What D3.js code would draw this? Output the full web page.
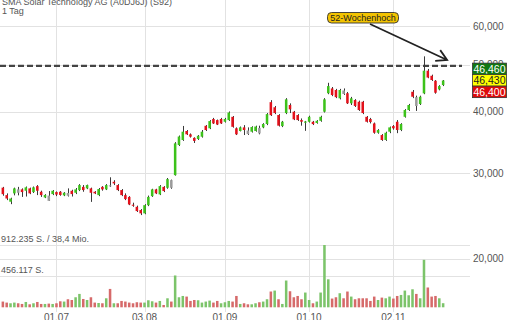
<!DOCTYPE html>
<html>
<head>
<meta charset="utf-8">
<script src="https://cdn.jsdelivr.net/npm/d3@7"></script>
<style>
  body { margin: 0; background: #fff; }
  svg { display: block; font-family: "Liberation Sans", Arial, sans-serif; }
  .grid line { stroke: #e2e2e2; stroke-width: 1; shape-rendering: crispEdges; }
  .tick-label { fill: #555; font-size: 10px; }
  .vol-label { fill: #555; font-size: 9px; }
  .title { fill: #555; font-size: 9px; }
</style>
</head>
<body>
<div id="chart"></div>
<script>
const title = 'SMA Solar Technology AG (A0DJ6J) (S92)';
const period = '1 Tag';
const firstDay = '2020-06-11';
const lastDay = '2020-11-19';

const opens = [28.00, 27.03, 26.20, 27.25, 27.33, 27.77, 27.59, 27.90, 27.42, 28.20,
  27.46, 26.73, 26.31, 27.16, 27.42, 27.46, 27.00, 26.95, 27.59, 27.33,
  27.68, 28.10, 27.90, 27.90, 27.46, 27.03, 28.10, 27.77, 28.20, 28.78,
  28.34, 27.68, 27.03, 26.80, 25.83, 25.58, 25.19, 24.80, 25.78, 26.90,
  27.77, 27.12, 28.10, 27.98, 27.98, 29.70, 34.23, 35.05, 36.57, 36.00,
  35.40, 35.22, 35.60, 37.48, 37.04, 38.70, 38.50, 38.70, 38.20, 38.50,
  39.10, 37.04, 36.57, 37.20, 36.05, 36.45, 36.57, 36.16, 37.20, 37.80,
  41.90, 40.90, 39.43, 37.43, 39.80, 41.34, 40.05, 39.43, 38.51, 38.03,
  38.20, 38.20, 37.98, 38.37, 40.05, 43.70, 44.70, 44.37, 42.66, 43.55,
  43.70, 41.67, 42.32, 41.98, 41.98, 39.10, 38.70, 37.90, 36.27, 35.88,
  35.05, 36.45, 37.43, 38.20, 36.74, 39.10, 40.37, 44.00, 41.15, 41.53,
  43.67, 48.60, 47.45, 46.35, 44.50, 45.42];
const highs = [28.10, 27.25, 26.70, 28.00, 28.10, 27.90, 28.15, 28.00, 28.15, 28.34,
  27.60, 27.15, 27.55, 27.68, 27.50, 27.55, 27.42, 27.90, 27.72, 27.95,
  28.47, 28.34, 28.40, 28.00, 27.55, 27.95, 28.20, 28.47, 29.40, 29.00,
  28.47, 27.81, 27.25, 26.90, 26.08, 25.72, 25.31, 25.90, 26.97, 27.85,
  27.85, 28.34, 28.20, 29.30, 29.08, 34.70, 35.80, 37.45, 36.74, 36.15,
  35.50, 35.88, 36.74, 37.61, 38.50, 38.90, 38.60, 38.90, 38.90, 40.10,
  39.25, 37.20, 37.35, 37.60, 37.20, 37.40, 37.50, 37.50, 37.95, 39.80,
  42.30, 41.15, 39.60, 38.35, 42.70, 41.66, 40.20, 39.60, 38.80, 38.35,
  39.30, 38.35, 38.50, 39.30, 42.70, 45.90, 45.00, 44.60, 44.60, 44.70,
  43.96, 42.95, 42.50, 42.20, 42.15, 39.25, 38.90, 38.06, 36.90, 36.05,
  36.45, 37.35, 37.61, 38.51, 37.95, 40.55, 41.55, 44.37, 43.20, 43.20,
  52.00, 49.00, 47.70, 46.50, 45.40, 46.51];
const lows = [26.95, 26.40, 25.90, 27.00, 27.00, 26.80, 26.85, 27.15, 27.30, 27.03,
  26.80, 26.65, 26.30, 27.03, 26.90, 26.95, 26.90, 26.85, 26.85, 27.16,
  27.55, 27.46, 27.80, 26.18, 27.16, 26.90, 27.60, 27.68, 28.10, 28.34,
  27.55, 26.90, 26.40, 25.78, 25.58, 24.96, 24.60, 24.70, 25.66, 26.80,
  27.16, 27.03, 27.42, 27.85, 27.85, 29.63, 34.07, 34.90, 35.88, 35.45,
  34.56, 35.05, 35.45, 36.57, 36.90, 37.80, 37.61, 37.80, 38.05, 38.35,
  37.15, 35.88, 36.50, 35.88, 35.90, 36.30, 36.45, 36.00, 37.05, 37.60,
  39.25, 39.60, 37.35, 37.25, 39.60, 39.80, 38.50, 38.35, 37.50, 36.60,
  38.05, 37.61, 37.85, 38.20, 39.90, 43.50, 43.10, 42.70, 42.45, 43.35,
  41.53, 41.34, 40.95, 40.20, 39.60, 38.05, 37.90, 36.10, 36.10, 34.90,
  34.90, 36.20, 36.80, 36.20, 36.55, 38.95, 40.20, 42.70, 40.20, 41.34,
  43.50, 46.90, 46.30, 43.60, 44.30, 45.20];
const closes = [27.15, 26.60, 26.60, 27.90, 27.77, 27.42, 28.04, 27.25, 28.04, 27.59,
  27.03, 27.05, 26.97, 27.59, 27.10, 27.05, 27.33, 27.30, 27.16, 27.77,
  28.34, 27.68, 28.34, 27.33, 27.25, 27.81, 27.77, 28.34, 28.30, 28.56,
  27.68, 27.03, 26.53, 25.86, 25.80, 25.07, 24.80, 25.78, 26.80, 27.77,
  27.25, 28.20, 27.55, 29.15, 29.01, 34.50, 35.63, 36.45, 36.00, 35.60,
  34.90, 35.75, 36.45, 36.74, 38.32, 37.90, 37.70, 37.90, 38.70, 39.90,
  37.30, 36.00, 37.20, 36.74, 36.65, 37.26, 37.35, 37.10, 37.80, 39.60,
  39.40, 39.80, 37.50, 38.20, 42.46, 40.50, 38.63, 38.51, 38.20, 38.25,
  39.10, 37.78, 38.37, 39.10, 42.46, 45.20, 43.33, 42.90, 44.37, 44.27,
  41.67, 42.66, 41.15, 40.37, 39.80, 38.20, 38.15, 36.27, 36.74, 35.05,
  36.27, 37.20, 37.04, 36.74, 37.80, 40.37, 41.34, 42.98, 42.90, 42.98,
  48.60, 47.05, 46.51, 43.80, 45.20, 46.40];
const volumes = [84000, 69000, 59000, 69000, 59000, 49000, 78000, 44000, 59000, 78000,
  49000, 49000, 54000, 49000, 59000, 88000, 84000, 118000, 107000, 147000,
  196000, 122000, 107000, 147000, 69000, 63000, 59000, 132000, 269000, 59000,
  59000, 93000, 84000, 69000, 59000, 74000, 69000, 69000, 103000, 88000,
  69000, 93000, 34000, 132000, 84000, 466000, 147000, 166000, 157000, 93000,
  107000, 103000, 69000, 84000, 98000, 69000, 93000, 59000, 74000, 93000,
  84000, 166000, 49000, 59000, 44000, 44000, 59000, 74000, 84000, 118000,
  231000, 245000, 118000, 49000, 392000, 235000, 147000, 166000, 118000, 216000,
  107000, 59000, 84000, 216000, 912235, 410000, 128000, 147000, 206000, 132000,
  231000, 157000, 118000, 132000, 132000, 132000, 93000, 157000, 107000, 142000,
  132000, 157000, 128000, 166000, 181000, 245000, 176000, 264000, 196000, 132000,
  695000, 290000, 157000, 166000, 132000, 60000];

const priceTicks = [20, 30, 40, 50, 60];
const volumeTicks = [456117, 912235];
const volumeTickLabels = ['456.117 S.', '912.235 S. / 38,4 Mio.'];
const high52 = 49.7;
const high52Label = '52-Wochenhoch';
const quotes = [46.46, 46.43, 46.40];

class CandleChart {
  constructor(_config) {
    this.config = {
      parentElement: _config.parentElement,
      containerWidth: 510,
      containerHeight: 320,
      plotRight: 470,
    };
    this.initVis();
  }

  /* svg, scales and data */
  initVis() {
    const vis = this;

    const parse = d3.timeParse('%Y-%m-%d');
    vis.dates = d3.timeDay.range(parse(firstDay), d3.timeDay.offset(parse(lastDay), 1))
      .filter((d) => d.getDay() !== 0 && d.getDay() !== 6);
    vis.data = vis.dates.map((d, i) => ({
      date: d, open: opens[i], high: highs[i], low: lows[i], close: closes[i], volume: volumes[i],
      prevClose: i > 0 ? closes[i - 1] : opens[i],
    }));

    vis.svg = d3.select(vis.config.parentElement).append('svg')
      .attr('width', vis.config.containerWidth)
      .attr('height', vis.config.containerHeight);

    vis.xScale = d3.scaleBand()
      .domain(vis.dates)
      .range([0.3, 445.7])
      .padding(0.34);
    vis.yScale = d3.scaleLog()
      .domain([30, 60])
      .range([173, 26]);
    vis.volScale = d3.scaleLinear()
      .domain([0, 912235])
      .range([307.3, 245]);

    vis.de = d3.formatLocale({ decimal: ',', thousands: '.', grouping: [3], currency: ['', ' €'] });
    vis.fmt = vis.de.format('.3f');

    vis.renderVis();
  }

  renderVis() {
    const vis = this;
    const x = (d) => vis.xScale(d) + vis.xScale.bandwidth() / 2;

    /* month ticks = first trading day of each month */
    const monthTicks = vis.dates.filter((d, i) => i > 0 && d.getMonth() !== vis.dates[i - 1].getMonth());

    const grid = vis.svg.append('g').attr('class', 'grid');
    grid.selectAll('.vgrid')
      .data(monthTicks)
      .join('line')
      .attr('class', 'vgrid')
      .attr('x1', (d) => Math.round(x(d)) + 0.5)
      .attr('x2', (d) => Math.round(x(d)) + 0.5)
      .attr('y1', 0)
      .attr('y2', 312);
    grid.selectAll('.hgrid')
      .data(priceTicks)
      .join('line')
      .attr('class', 'hgrid')
      .attr('x1', 0)
      .attr('x2', vis.config.plotRight)
      .attr('y1', (d) => Math.round(vis.yScale(d)) + 0.5)
      .attr('y2', (d) => Math.round(vis.yScale(d)) + 0.5);
    grid.selectAll('.vol-grid')
      .data(volumeTicks)
      .join('line')
      .attr('class', 'vol-grid')
      .attr('x1', 0)
      .attr('x2', vis.config.plotRight)
      .attr('y1', (d) => Math.round(vis.volScale(d)) + 0.5)
      .attr('y2', (d) => Math.round(vis.volScale(d)) + 0.5);

    /* titles */
    vis.svg.append('text').attr('class', 'title').attr('x', 2).attr('y', 5).text(title);
    vis.svg.append('text').attr('class', 'title').attr('x', 2).attr('y', 14).text(period);

    /* volume labels */
    vis.svg.selectAll('.vol-label')
      .data(volumeTicks)
      .join('text')
      .attr('class', 'vol-label')
      .attr('x', 1)
      .attr('y', (d) => vis.volScale(d) - 3)
      .text((d, i) => volumeTickLabels[i]);

    /* price axis labels */
    vis.svg.selectAll('.tick-label')
      .data(priceTicks)
      .join('text')
      .attr('class', 'tick-label')
      .attr('x', 473)
      .attr('y', (d) => vis.yScale(d))
      .attr('dy', '0.35em')
      .text((d) => vis.fmt(d));

    /* date labels */
    const dateFmt = d3.timeFormat('%d.%m');
    vis.svg.selectAll('.date-label')
      .data(monthTicks)
      .join('text')
      .attr('class', 'tick-label')
      .attr('x', (d) => x(d))
      .attr('y', 321)
      .attr('text-anchor', 'middle')
      .text((d) => dateFmt(d));

    /* volume bars */
    vis.svg.append('g').selectAll('rect')
      .data(vis.data)
      .join('rect')
      .attr('x', (d) => vis.xScale(d.date))
      .attr('width', vis.xScale.bandwidth())
      .attr('y', (d) => vis.volScale(d.volume))
      .attr('height', (d) => vis.volScale(0) - vis.volScale(d.volume))
      .attr('fill', (d) => (d.close >= d.prevClose ? '#7cc46a' : '#d66a6a'));

    /* 52 week high line */
    vis.svg.append('line')
      .attr('x1', 0)
      .attr('x2', 462)
      .attr('y1', vis.yScale(high52))
      .attr('y2', vis.yScale(high52))
      .attr('stroke', '#444')
      .attr('stroke-width', 2.3)
      .attr('stroke-dasharray', '6,3');

    /* candles */
    const candles = vis.svg.append('g').selectAll('g')
      .data(vis.data)
      .join('g');
    candles.append('line')
      .attr('x1', (d) => Math.round(x(d.date)) + 0.5)
      .attr('x2', (d) => Math.round(x(d.date)) + 0.5)
      .attr('y1', (d) => vis.yScale(d.high))
      .attr('y2', (d) => vis.yScale(d.low))
      .attr('stroke', '#3a3a3a')
      .attr('stroke-width', 1);
    candles.append('rect')
      .attr('x', (d) => vis.xScale(d.date))
      .attr('width', vis.xScale.bandwidth())
      .attr('y', (d) => vis.yScale(Math.max(d.open, d.close)))
      .attr('height', (d) => Math.max(1, Math.abs(vis.yScale(d.open) - vis.yScale(d.close))))
      .attr('fill', (d) => {
        if (d.close < d.open) return '#e3101a';
        return d.close < d.prevClose ? '#9b9b9b' : '#3cc21a';
      });

    /* last quote boxes */
    const boxH = 11.5;
    const midY = vis.yScale(quotes[1]);
    const boxStyle = [
      { fill: '#127812', text: '#fff' },
      { fill: '#ffff00', text: '#222' },
      { fill: '#dd0a0a', text: '#fff' },
    ];
    const boxes = vis.svg.append('g').selectAll('g')
      .data(quotes)
      .join('g')
      .attr('transform', (d, i) => `translate(472,${midY + (i - 1.5) * boxH})`);
    boxes.append('rect')
      .attr('x', 0.5)
      .attr('y', 0)
      .attr('width', 34)
      .attr('height', boxH)
      .attr('fill', (d, i) => boxStyle[i].fill)
      .attr('stroke', '#333')
      .attr('stroke-width', 0.8);
    boxes.append('text')
      .attr('x', 17.5)
      .attr('y', boxH / 2)
      .attr('dy', '0.36em')
      .attr('text-anchor', 'middle')
      .attr('font-size', 10.5)
      .attr('fill', (d, i) => boxStyle[i].text)
      .text((d) => vis.fmt(d));

    /* annotation: 52-Wochenhoch label and arrow */
    const note = vis.svg.append('g');
    note.append('rect')
      .attr('x', 327.5)
      .attr('y', 12.5)
      .attr('width', 71)
      .attr('height', 10.5)
      .attr('rx', 4)
      .attr('fill', '#f3c300')
      .attr('stroke', '#333')
      .attr('stroke-width', 0.9);
    note.append('text')
      .attr('x', 363)
      .attr('y', 17.8)
      .attr('dy', '0.35em')
      .attr('text-anchor', 'middle')
      .attr('font-size', 9)
      .attr('fill', '#222')
      .text(high52Label);

    const tip = [x(vis.dates[vis.dates.length - 1]) + 4, vis.yScale(high52) - 6];
    const start = [370, 24];
    const ang = Math.atan2(start[1] - tip[1], start[0] - tip[0]);
    const arm = 12;
    const a1 = [tip[0] + arm * Math.cos(ang - 0.52), tip[1] + arm * Math.sin(ang - 0.52)];
    const a2 = [tip[0] + arm * Math.cos(ang + 0.52), tip[1] + arm * Math.sin(ang + 0.52)];
    note.append('path')
      .attr('d', `M${start}L${tip}M${a1}L${tip}L${a2}`)
      .attr('fill', 'none')
      .attr('stroke', '#222')
      .attr('stroke-width', 1.8);
  }
}

new CandleChart({ parentElement: '#chart' });
</script>
</body>
</html>
